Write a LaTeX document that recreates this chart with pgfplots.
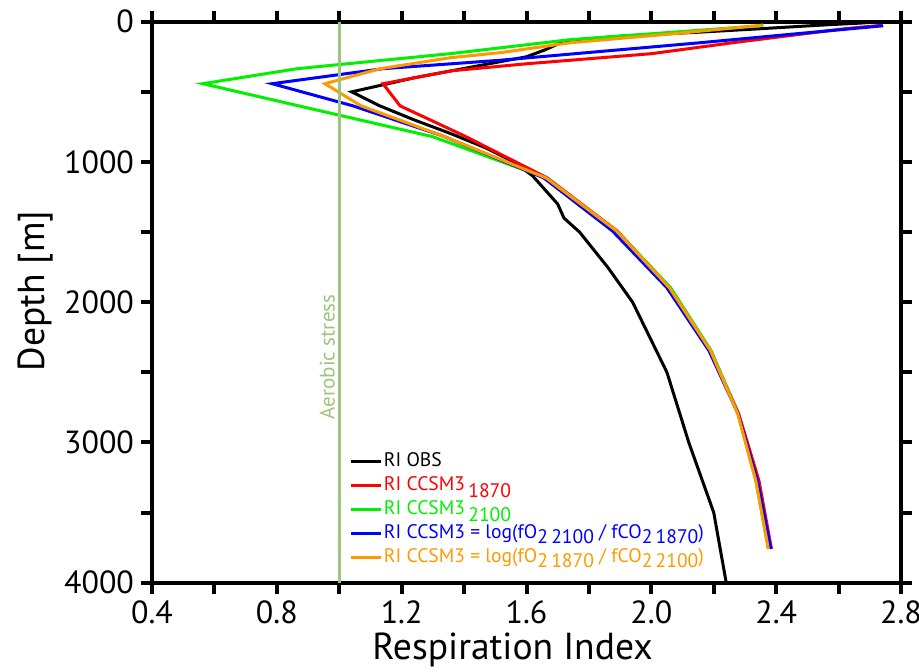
\documentclass[border=0pt]{standalone}
\usepackage{fontspec}
\setmainfont{PT Sans}
\usepackage{pgfplots}
\pgfplotsset{compat=1.18}
\definecolor{riorange}{RGB}{255,153,0}
\definecolor{rigreen}{RGB}{0,240,0}
\definecolor{aerob}{RGB}{158,196,124}

\begin{document}
\begin{tikzpicture}
\begin{axis}[
  name=ax,
  scale only axis, width=374.5pt, height=280.5pt,
  xmin=0.4, xmax=2.8, ymin=0, ymax=4000, y dir=reverse,
  xtick={0.4,0.8,1.2,1.6,2.0,2.4,2.8}, minor xtick={0.6,1.0,1.4,1.8,2.2,2.6},
  ytick={0,1000,2000,3000,4000}, minor ytick={500,1500,2500,3500},
  tick align=outside, tick pos=both,
  major tick length=5.5pt, minor tick length=5.5pt,
  tick style={line width=2pt, black},
  axis line style={line width=2pt},
  /pgf/number format/assume math mode=true,
  ticklabel style={font=\fontsize{16}{16}\selectfont},
  xticklabel style={/pgf/number format/.cd, fixed, fixed zerofill, precision=1},
  yticklabel style={/pgf/number format/1000 sep={}},
  xlabel={Respiration Index}, ylabel={Depth [m]},
  label style={font=\fontsize{18.8}{18.8}\selectfont},
  xlabel style={at={(axis description cs:0.5,0)}, anchor=center, yshift=-33.5pt, xshift=-7pt},
  ylabel style={at={(axis description cs:-0.155,0.52)}, anchor=center},
  legend style={at={(0.255,0.245)}, anchor=north west, draw=none, fill=none,
    font=\fontsize{9.8}{11}\selectfont, row sep=0pt,
    nodes={inner sep=0.8pt, text height=7.8pt, text depth=2.6pt}},
  legend cell align=left,
  legend image code/.code={\draw[#1, line width=1.5pt] (0pt,0pt) -- (15pt,0pt);},
  every axis plot/.append style={line width=1.5pt},
]
% RI OBS
\addplot[black] coordinates {
(2.73,0) (2.67,10) (2.58,20) (2.50,30) (2.35,50) (2.15,75) (1.92,100) (1.78,125)
(1.71,150) (1.66,200) (1.60,250) (1.48,300) (1.24,400) (1.04,500) (1.13,600)
(1.24,700) (1.36,800) (1.47,900) (1.56,1000) (1.62,1100) (1.66,1200) (1.70,1300)
(1.72,1400) (1.77,1500) (1.86,1750) (1.94,2000) (2.05,2500) (2.12,3000)
(2.20,3500) (2.24,4000)};
\addlegendentry{RI OBS}
% RI CCSM3 1870
\addplot[red] coordinates {
(2.74,25) (2.62,50) (2.44,100) (2.26,150) (2.00,228) (1.60,300) (1.36,350)
(1.14,442) (1.195,600) (1.40,813) (1.666,1113) (1.89,1491) (2.06,1897)
(2.19,2347) (2.28,2796) (2.345,3274) (2.385,3759)};
\addlegendentry{\textcolor{red}{RI CCSM3\,\raisebox{-0.7ex}{1870}}}
% RI CCSM3 2100
\addplot[rigreen] coordinates {
(2.358,21) (2.349,29) (2.00,86) (1.74,128) (1.355,228) (0.865,335) (0.563,442)
(0.87,600) (1.30,820) (1.662,1113) (1.888,1491) (2.062,1897) (2.192,2347)
(2.278,2796) (2.335,3274) (2.375,3759)};
\addlegendentry{\textcolor{rigreen}{RI CCSM3\,\raisebox{-0.7ex}{2100}}}
% O2 2100 / CO2 1870
\addplot[blue] coordinates {
(2.743,29) (2.445,90) (2.156,150) (1.515,275) (1.14,335) (0.785,442) (1.044,600)
(1.33,813) (1.655,1113) (1.875,1491) (2.05,1897) (2.185,2347) (2.278,2796)
(2.34,3274) (2.383,3759)};
\addlegendentry{\textcolor{blue}{RI CCSM3 = log(fO\raisebox{-0.5ex}{2}\,\raisebox{-0.5ex}{2100} / fCO\raisebox{-0.5ex}{2}\,\raisebox{-0.5ex}{1870})}}
% O2 1870 / CO2 2100
\addplot[riorange] coordinates {
(2.355,25) (2.07,86) (1.74,150) (1.515,221) (1.355,257) (1.131,335) (0.954,442)
(1.07,600) (1.33,813) (1.662,1113) (1.888,1491) (2.058,1897) (2.19,2347)
(2.277,2796) (2.335,3274) (2.375,3759)};
\addlegendentry{\textcolor{riorange}{RI CCSM3 = log(fO\raisebox{-0.5ex}{2}\,\raisebox{-0.5ex}{1870} / fCO\raisebox{-0.5ex}{2}\,\raisebox{-0.5ex}{2100})}}
% aerobic stress threshold
\addplot[aerob, forget plot] coordinates {(1,0) (1,4000)};
\node[aerob, rotate=90, anchor=south, inner sep=2pt, font=\fontsize{10.5}{10.5}\selectfont]
  at (axis cs:1,2390) {Aerobic stress};
\end{axis}
\pgfresetboundingbox
\path[use as bounding box] ([shift={(-76pt,-44.15pt)}]ax.south west) rectangle ([shift={(9pt,10.85pt)}]ax.north east);
\end{tikzpicture}
\end{document}
